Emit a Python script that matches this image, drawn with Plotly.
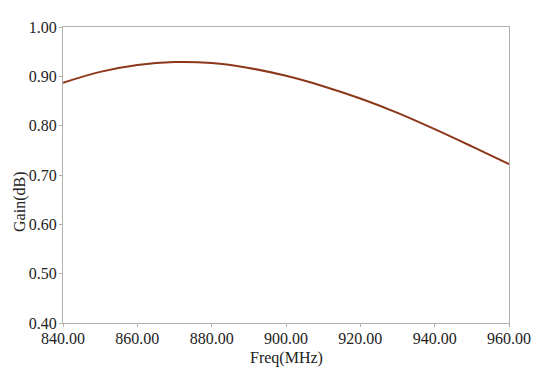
import plotly.graph_objects as go

freq_mhz = [840, 850, 860, 870, 880, 890, 900, 910, 920, 930, 940, 950, 960]
gain_db = [0.887, 0.909, 0.923, 0.929, 0.927, 0.917, 0.901, 0.880, 0.855, 0.826, 0.793, 0.758, 0.722]

x_ticks = [840, 860, 880, 900, 920, 940, 960]
y_ticks = [0.40, 0.50, 0.60, 0.70, 0.80, 0.90, 1.00]

font_family = "Liberation Serif, DejaVu Serif, serif"

fig = go.Figure()
fig.add_trace(go.Scatter(
    x=freq_mhz, y=gain_db, mode="lines",
    line=dict(color="rgb(140,55,25)", width=2, shape="spline", smoothing=1.0),
    showlegend=False, hoverinfo="skip",
))

axis_common = dict(
    showgrid=False, zeroline=False, showline=True, linecolor="#b0b0b0",
    linewidth=1, mirror=True, ticks="outside", ticklen=3, tickcolor="#b0b0b0",
    tickfont=dict(family=font_family, size=16, color="#222"),
)

fig.update_layout(
    width=550, height=367,
    margin=dict(l=63, r=41, t=27, b=44),
    paper_bgcolor="white", plot_bgcolor="white",
    xaxis=dict(range=[840, 960], tickvals=x_ticks, ticklabelstandoff=-2,
               ticktext=[f"{v:.2f}" for v in x_ticks], **axis_common),
    yaxis=dict(range=[0.40, 1.00], tickvals=y_ticks, ticklabelstandoff=-1,
               ticktext=[f"{v:.2f}" for v in y_ticks], **axis_common),
    annotations=[
        dict(text="Freq(MHz)", x=0.5, y=-0.08, xref="paper", yref="paper",
             xanchor="center", yanchor="top", showarrow=False,
             font=dict(family=font_family, size=16, color="#222")),
        dict(text="Gain(dB)", x=-0.098, y=0.41, xref="paper", yref="paper",
             xanchor="center", yanchor="middle", showarrow=False, textangle=-90,
             font=dict(family=font_family, size=16, color="#222")),
    ],
)

fig.write_html("out.html", config={"displayModeBar": False},
               post_script="document.body.style.margin='0';document.body.style.overflow='hidden';")
